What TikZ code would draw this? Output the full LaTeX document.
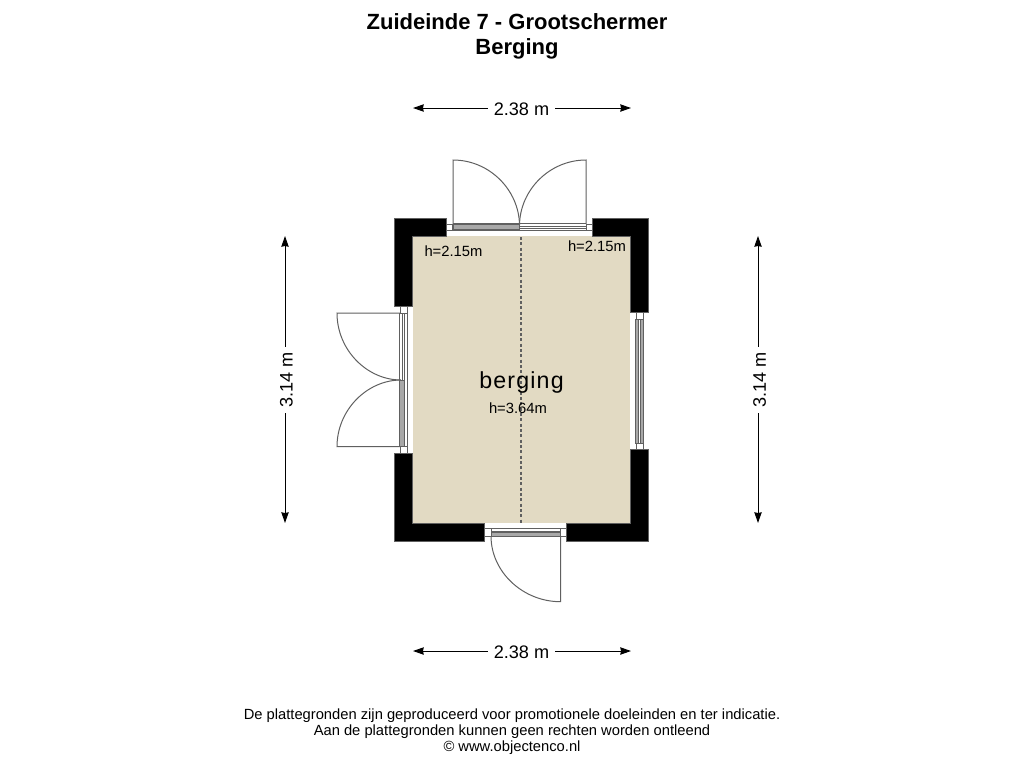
\documentclass[tikz,border=0pt]{standalone}
\usepackage{fontspec}
\setmainfont{Liberation Sans}
\usetikzlibrary{arrows.meta}
\definecolor{floorcol}{HTML}{E2DAC3}
\definecolor{leafcol}{HTML}{606060}
\definecolor{bandcol}{HTML}{A8A8A8}
\tikzset{
    wall/.style={fill=black, draw=leafcol, line width=0.4pt},
    leaf/.style={draw=leafcol, line width=0.75pt},
    frameline/.style={draw=leafcol, line width=0.5pt},
    band/.style={fill=bandcol, draw=leafcol, line width=0.4pt},
    jamb/.style={fill=white, draw=leafcol, line width=0.5pt},
    dimline/.style={line width=0.75pt, {Stealth[length=8pt,width=5.5pt,inset=0.5pt]}-},
    dimtext/.style={font=\fontsize{13.6}{15}\selectfont},
    roomtext/.style={font=\fontsize{11.1}{13}\selectfont},
    titletext/.style={font=\fontsize{16.5}{19}\bfseries\selectfont},
    notetext/.style={font=\fontsize{11.05}{13}\selectfont}
}
\begin{document}
\begin{tikzpicture}[x=0.75pt, y=-0.75pt]
    \useasboundingbox (0,0) rectangle (1024,768);
    % floor
    \fill [floorcol] (412.7,236) rectangle (630,523);
    \draw [leafcol, line width=0.85pt, dash pattern=on 2.2pt off 1.8pt] (521,237) -- (521,523);
    % walls
    \draw [wall] (394.3,218) -- (446.3,218) -- (446.3,236) -- (412.7,236) -- (412.7,306.7) -- (394.3,306.7) -- cycle;
    \draw [wall] (592.7,218) -- (648.3,218) -- (648.3,312.5) -- (630,312.5) -- (630,236) -- (592.7,236) -- cycle;
    \draw [wall] (394.3,453.3) -- (412.7,453.3) -- (412.7,523) -- (484.3,523) -- (484.3,541.3) -- (394.3,541.3) -- cycle;
    \draw [wall] (630,449.7) -- (648.3,449.7) -- (648.3,541.3) -- (566.7,541.3) -- (566.7,523) -- (630,523) -- cycle;
    % top doors
    \draw [jamb] (446.3,224) rectangle (452.8,230.7);
    \draw [jamb] (586,224) rectangle (592.7,230.7);
    \draw [band] (453,224.5) rectangle (519,229.5);
    \draw [frameline] (453,223.5) -- (586,223.5);
    \draw [frameline] (453,230.7) -- (586,230.7);
    \draw [frameline] (519,226) -- (586,226);
    \draw [frameline] (519,228.5) -- (586,228.5);
    \draw [leaf] (453,224) -- (453,160) .. controls (489.5,160) and (519,190) .. (519.5,225);
    \draw [leaf] (586,224) -- (586,160) .. controls (549.5,160) and (520,190) .. (519.5,225);
    % left doors
    \draw [jamb] (400,306.7) rectangle (407,313);
    \draw [jamb] (400,446.7) rectangle (407,453.3);
    \draw [band] (399.5,380) rectangle (404.5,446.7);
    \draw [frameline] (399.5,313) -- (399.5,446.7);
    \draw [frameline] (407,313) -- (407,446.7);
    \draw [frameline] (402,313) -- (402,380);
    \draw [frameline] (404.8,313) -- (404.8,380);
    \draw [leaf] (400,313) -- (337,313) .. controls (337,350) and (367,380) .. (401,380);
    \draw [leaf] (400,446.7) -- (337,446.7) .. controls (337,410) and (367,380) .. (401,380);
    % bottom door
    \draw [jamb] (484.3,528.5) rectangle (491,536.5);
    \draw [jamb] (560.3,528.5) rectangle (566.7,536.5);
    \draw [frameline] (491,528.5) -- (560.3,528.5);
    \draw [frameline] (491,531) -- (560.3,531);
    \draw [band] (491,532.7) rectangle (560.3,536.7);
    \draw [leaf] (560.5,536) -- (560.5,601.7) .. controls (523,601.7) and (491,572) .. (491,536);
    % right window
    \draw [jamb] (636,312.7) rectangle (643,319);
    \draw [jamb] (636,443.3) rectangle (643,449.7);
    \draw [band] (635.3,319) rectangle (643.7,443.3);
    \draw [frameline, fill=white] (638.7,319) rectangle (640.7,443.3);
    % dimensions
    \coordinate (topL) at (413,108);
    \coordinate (topR) at (631,108);
    \coordinate (botL) at (413,651);
    \coordinate (botR) at (631,651);
    \coordinate (leftT) at (285,236);
    \coordinate (leftB) at (285,523);
    \coordinate (rightT) at (758,236);
    \coordinate (rightB) at (758,523);
    \node [dimtext, inner sep=4pt] (dimtop) at (521.5,109.5) {2.38 m};
    \node [dimtext, inner sep=4pt] (dimbot) at (521.5,652.5) {2.38 m};
    \node [dimtext, inner sep=4pt, rotate=90] (dimleft) at (286.5,380) {3.14 m};
    \node [dimtext, inner sep=4pt, rotate=90] (dimright) at (759.5,380) {3.14 m};
    \draw [dimline] (topL) -- (topL -| dimtop.west);
    \draw [dimline] (topR) -- (topR -| dimtop.east);
    \draw [dimline] (botL) -- (botL -| dimbot.west);
    \draw [dimline] (botR) -- (botR -| dimbot.east);
    \draw [dimline] (leftT) -- (leftT |- dimleft.east);
    \draw [dimline] (leftB) -- (leftB |- dimleft.west);
    \draw [dimline] (rightT) -- (rightT |- dimright.east);
    \draw [dimline] (rightB) -- (rightB |- dimright.west);
    % room labels
    \node [font=\fontsize{17.4}{20}\selectfont] (roomname) at (521.5,382) {\addfontfeature{LetterSpace=5}berging};
    \node [roomtext] (roomhigh) at (518,408) {h=3.64m};
    \node [roomtext] (roomleft) at (453.5,251) {h=2.15m};
    \node [roomtext] (roomright) at (597,246) {h=2.15m};
    % titles
    \node [titletext] (title) at (517,22) {Zuideinde 7 - Grootschermer};
    \node [titletext] (subtitle) at (517,48.5) {Berging};
    \node [notetext] (noteA) at (512,716) {De plattegronden zijn geproduceerd voor promotionele doeleinden en ter indicatie.};
    \node [notetext] (noteB) at (512,732) {Aan de plattegronden kunnen geen rechten worden ontleend};
    \node [notetext] (noteC) at (512,748) {© www.objectenco.nl};
\end{tikzpicture}
\end{document}
